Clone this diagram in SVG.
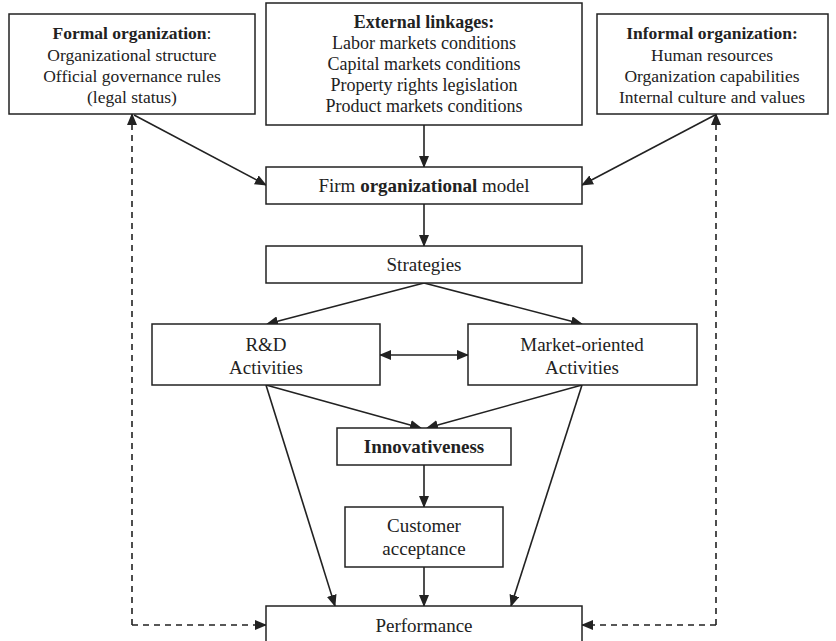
<svg xmlns="http://www.w3.org/2000/svg" width="836" height="641" viewBox="0 0 836 641">
<defs>
<style>
.box{fill:#fff;stroke:#222;stroke-width:1.5}
.t{font-family:"Liberation Serif","Times New Roman","DejaVu Serif",serif;fill:#222;text-anchor:middle}
.s1{font-size:17.5px}
.s2{font-size:18px}
.s3{font-size:19px}
.b{font-weight:bold}
.c{stroke:#222;stroke-width:1.6;fill:none}
.d{stroke:#222;stroke-width:1.6;fill:none;stroke-dasharray:6,5}
</style>
<marker id="ah" markerWidth="12" markerHeight="10" refX="11" refY="5" orient="auto" markerUnits="userSpaceOnUse">
<path d="M0,0 L12,5 L0,10 Z" fill="#222"/>
</marker>
<marker id="as" markerWidth="12" markerHeight="10" refX="1" refY="5" orient="auto" markerUnits="userSpaceOnUse">
<path d="M12,0 L0,5 L12,10 Z" fill="#222"/>
</marker>
</defs>
<rect width="836" height="641" fill="#fff"/>
<g id="connectors">
<line class="c" x1="134" y1="115" x2="266" y2="185" marker-end="url(#ah)"/>
<line class="c" x1="715" y1="115" x2="582" y2="185" marker-end="url(#ah)"/>
<line class="c" x1="424" y1="125" x2="424" y2="167" marker-end="url(#ah)"/>
<line class="c" x1="424" y1="204" x2="424" y2="246" marker-end="url(#ah)"/>
<line class="c" x1="424" y1="283" x2="267" y2="324" marker-end="url(#ah)"/>
<line class="c" x1="424" y1="283" x2="582" y2="324" marker-end="url(#ah)"/>
<line class="c" x1="380" y1="355" x2="468" y2="355" marker-start="url(#as)" marker-end="url(#ah)"/>
<line class="c" x1="266" y1="385" x2="421" y2="428" marker-end="url(#ah)"/>
<line class="c" x1="582" y1="385" x2="427" y2="428" marker-end="url(#ah)"/>
<line class="c" x1="266" y1="385" x2="335" y2="606" marker-end="url(#ah)"/>
<line class="c" x1="582" y1="385" x2="511" y2="606" marker-end="url(#ah)"/>
<line class="c" x1="424" y1="465" x2="424" y2="507" marker-end="url(#ah)"/>
<line class="c" x1="424" y1="567" x2="424" y2="606" marker-end="url(#ah)"/>
<path class="d" d="M132,625 V114" marker-end="url(#ah)"/>
<path class="d" d="M132,625 H266" marker-end="url(#ah)"/>
<path class="d" d="M716,625 V114" marker-end="url(#ah)"/>
<path class="d" d="M716,625 H582" marker-end="url(#ah)"/>
</g>
<g id="formal">
<rect class="box" x="9" y="14" width="246" height="100"/>
<text class="t s1" x="132" y="39"><tspan class="b">Formal organization</tspan>:</text>
<text class="t s1" x="132" y="61">Organizational structure</text>
<text class="t s1" x="132" y="82">Official governance rules</text>
<text class="t s1" x="132" y="102.5">(legal status)</text>
</g>
<g id="external">
<rect class="box" x="266" y="3" width="316" height="122"/>
<text class="t s2 b" x="424" y="28">External linkages:</text>
<text class="t s2" x="424" y="49">Labor markets conditions</text>
<text class="t s2" x="424" y="70">Capital markets conditions</text>
<text class="t s2" x="424" y="91">Property rights legislation</text>
<text class="t s2" x="424" y="112">Product markets conditions</text>
</g>
<g id="informal">
<rect class="box" x="597" y="14" width="231" height="100"/>
<text class="t s1 b" x="712" y="39">Informal organization:</text>
<text class="t s1" x="712" y="61">Human resources</text>
<text class="t s1" x="712" y="82">Organization capabilities</text>
<text class="t s1" x="712" y="102.5">Internal culture and values</text>
</g>
<g id="firm">
<rect class="box" x="266" y="167" width="316" height="37"/>
<text class="t s3" x="424" y="192">Firm <tspan class="b">organizational</tspan> model</text>
</g>
<g id="strategies">
<rect class="box" x="266" y="246" width="316" height="37"/>
<text class="t s3" x="424" y="271">Strategies</text>
</g>
<g id="rd">
<rect class="box" x="152" y="324" width="228" height="61"/>
<text class="t s3" x="266" y="351">R&amp;D</text>
<text class="t s3" x="266" y="374">Activities</text>
</g>
<g id="market">
<rect class="box" x="468" y="324" width="229" height="61"/>
<text class="t s3" x="582" y="351">Market-oriented</text>
<text class="t s3" x="582" y="374">Activities</text>
</g>
<g id="innovativeness">
<rect class="box" x="337" y="428" width="174" height="37"/>
<text class="t s3 b" x="424" y="453">Innovativeness</text>
</g>
<g id="customer">
<rect class="box" x="345" y="507" width="158" height="60"/>
<text class="t s3" x="424" y="532">Customer</text>
<text class="t s3" x="424" y="555">acceptance</text>
</g>
<g id="performance">
<rect class="box" x="266" y="606" width="316" height="40"/>
<text class="t s3" x="424" y="632">Performance</text>
</g>
</svg>
